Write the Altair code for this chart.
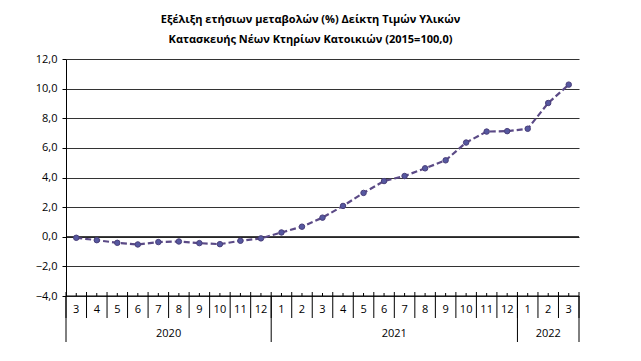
import altair as alt
import pandas as pd

months = [3, 4, 5, 6, 7, 8, 9, 10, 11, 12,
          1, 2, 3, 4, 5, 6, 7, 8, 9, 10, 11, 12,
          1, 2, 3]
years = [2020] * 10 + [2021] * 12 + [2022] * 3
values = [-0.07, -0.23, -0.41, -0.52, -0.36, -0.32, -0.43, -0.50, -0.27, -0.11,
          0.29, 0.68, 1.29, 2.08, 2.96, 3.76, 4.10, 4.62, 5.16, 6.36, 7.10, 7.13,
          7.29, 9.03, 10.27]
y_ticks = [-4, -2, 0, 2, 4, 6, 8, 10, 12]
title_lines = ["Εξέλιξη ετήσιων μεταβολών (%) Δείκτη Τιμών Υλικών",
               "Κατασκευής Νέων Κτηρίων Κατοικιών (2015=100,0)"]

W, H = 513, 237
FONT = "Open Sans"
n = len(values)

df = pd.DataFrame({"i": list(range(n)), "m": [str(m) for m in months],
                   "year": years, "v": values})

bounds = []
for k in range(n + 1):
    is_year = k == 0 or k == n or years[k] != years[k - 1]
    bounds.append({"b": k - 0.5, "year_b": is_year})
bdf = pd.DataFrame(bounds)

ydf = df.groupby("year", as_index=False)["i"].mean()
ydf["label"] = ydf["year"].astype(str)

xscale = alt.Scale(domain=[-0.5, n - 0.5], nice=False, zero=False)
yscale = alt.Scale(domain=[-4, 12], nice=False)

yaxis = alt.Axis(values=y_ticks, grid=True, gridColor="#333333", gridOpacity=1,
                 gridWidth=1.2, domainColor="#000", tickColor="#000",
                 tickSize=4, labelPadding=5, labelFontSize=11,
                 labelFont=FONT, labelColor="#000",
                 labelOverlap=False, labelFlush=False,
                 labelExpr="replace(format(datum.value, '.1f'), '.', ',')")

base = alt.Chart(df)

zero = alt.Chart(pd.DataFrame({"z": [0, -4]})).mark_rule(color="#000", strokeWidth=1.2).encode(
    y=alt.Y("z:Q", scale=yscale, axis=yaxis, title=None))

line = base.mark_line(color="#5b4a86", strokeWidth=2.2, strokeDash=[6, 3]).encode(
    x=alt.X("i:Q", scale=xscale, axis=None),
    y=alt.Y("v:Q", scale=yscale, axis=yaxis, title=None),
)
points = base.mark_point(filled=True, size=30, color="#5658a0", stroke="#4a3f7a",
                         strokeWidth=1, opacity=1).encode(
    x=alt.X("i:Q", scale=xscale, axis=None),
    y=alt.Y("v:Q", scale=yscale, axis=yaxis, title=None))

small_ticks = base.mark_rule(color="#000", strokeWidth=1).encode(
    x=alt.X("i:Q", scale=xscale, axis=None), y=alt.value(H - 3), y2=alt.value(H))

month_lines = alt.Chart(bdf).mark_rule(color="#000", strokeWidth=1).encode(
    x=alt.X("b:Q", scale=xscale, axis=None), y=alt.value(H - 4), y2=alt.value(H + 22))
year_lines = alt.Chart(bdf).transform_filter("datum.year_b").mark_rule(
    color="#000", strokeWidth=1).encode(
    x=alt.X("b:Q", scale=xscale, axis=None), y=alt.value(H), y2=alt.value(H + 46))

month_text = base.mark_text(fontSize=11, font=FONT, color="#000").encode(
    x=alt.X("i:Q", scale=xscale, axis=None), y=alt.value(H + 14), text="m:N")
year_text = alt.Chart(ydf).mark_text(fontSize=11, font=FONT, color="#000").encode(
    x=alt.X("i:Q", scale=xscale, axis=None), y=alt.value(H + 38), text="label:N")

chart = alt.layer(zero, line, points, small_ticks, month_lines, year_lines,
                  month_text, year_text).properties(
    width=W, height=H,
    title=alt.TitleParams(title_lines, font=FONT, fontSize=11, fontWeight="bold",
                          color="#000", anchor="middle", dx=-12, offset=8,
                          lineHeight=20),
    autosize=alt.AutoSizeParams(type="none"),
    padding={"left": 58, "top": 51, "right": 40, "bottom": 50},
).configure_view(stroke=None)

chart.save("out.html", embed_options={"renderer": "svg", "actions": False})
